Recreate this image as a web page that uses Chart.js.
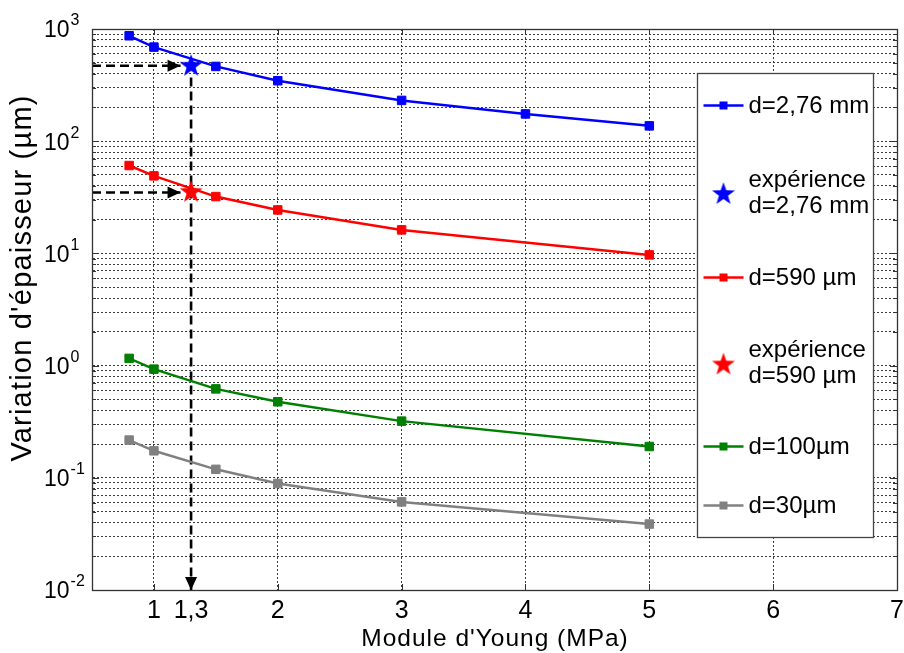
<!DOCTYPE html>
<html>
<head>
<meta charset="utf-8">
<script src="https://cdn.jsdelivr.net/npm/chart.js@4/dist/chart.umd.min.js"></script>
<style>
  html, body { margin: 0; padding: 0; background: #fff; }
  #wrap { width: 904px; height: 653px; }
</style>
</head>
<body>
<div id="wrap"><canvas id="chart" width="904" height="653"></canvas></div>
<script>
// model curves (Young modulus in MPa -> thickness variation in µm)
const xModel = [0.8, 1, 1.5, 2, 3, 4, 5];
const xModelShort = [0.8, 1, 1.5, 2, 3, 5];
const d276 = [870, 690, 464, 346, 231, 175, 137];
const d590 = [60.7, 49.1, 32.1, 24.4, 16.2, 9.7];
const d100 = [1.16, 0.93, 0.62, 0.476, 0.32, 0.19];
const d30 = [0.217, 0.174, 0.119, 0.089, 0.061, 0.0387];

// experimental points
const expX = [1.3];
const exp276 = [480];
const exp590 = [36.1];

// reading arrows (data space)
const arrowBlueX = [0.5, 1.215];
const arrowBlueY = [470, 470];
const arrowRedX = [0.5, 1.215];
const arrowRedY = [34.9, 34.9];
const arrowDownX = [1.3, 1.3];
const arrowDownY = [370, 0.01];

// axes
const xTicks = [1, 1.3, 2, 3, 4, 5, 6, 7];
const xTickLabels = ['1', '1,3', '2', '3', '4', '5', '6', '7'];
const yDecades = [0.01, 0.1, 1, 10, 100, 1000];
const yExponents = ['-2', '-1', '0', '1', '2', '3'];

const labels = ['d=2,76 mm', 'expérience\nd=2,76 mm', 'd=590 µm', 'expérience\nd=590 µm', 'd=100µm', 'd=30µm'];

const FONT = "'Liberation Sans', Arial, sans-serif";

const pts = (xs, ys) => xs.map((x, i) => ({ x: x, y: ys[i] }));

const makeStar = (color, r) => {
    const c = document.createElement('canvas');
    const s = Math.ceil(r * 2 + 4);
    c.width = s; c.height = s;
    const g = c.getContext('2d');
    const cx = s / 2, cy = s / 2 + r * 0.1;
    g.beginPath();
    for (let i = 0; i < 10; i++) {
        const rr = i % 2 === 0 ? r : r * 0.4;
        const a = -Math.PI / 2 + i * Math.PI / 5;
        const px = cx + rr * Math.cos(a), py = cy + rr * Math.sin(a);
        if (i === 0) g.moveTo(px, py); else g.lineTo(px, py);
    }
    g.closePath();
    g.fillStyle = color;
    g.fill();
    return c;
};

const starBlue = makeStar('#0000ff', 12);
const starRed = makeStar('#ff0000', 12);

const series = (label, xs, ys, color) => ({
    label: label,
    data: pts(xs, ys),
    borderColor: color,
    backgroundColor: color,
    borderWidth: 2.5,
    pointStyle: 'rect',
    pointRadius: 6,
    pointBorderWidth: 1,
    tension: 0,
    legendRow: true
});

const arrow = (xs, ys) => ({
    label: '',
    data: pts(xs, ys),
    borderColor: '#000',
    borderWidth: 2.6,
    borderDash: [9, 5],
    pointRadius: 0,
    showLine: true,
    isArrow: true
});

const datasets = [
    series(labels[0], xModel, d276, '#0000ff'),
    { label: labels[1], data: pts(expX, exp276), showLine: false, pointStyle: starBlue, pointRadius: 11, starImg: starBlue, legendRow: true },
    series(labels[2], xModelShort, d590, '#ff0000'),
    { label: labels[3], data: pts(expX, exp590), showLine: false, pointStyle: starRed, pointRadius: 11, starImg: starRed, legendRow: true },
    series(labels[4], xModelShort, d100, '#008000'),
    series(labels[5], xModelShort, d30, '#808080'),
    arrow(arrowBlueX, arrowBlueY),
    arrow(arrowRedX, arrowRedY),
    arrow(arrowDownX, arrowDownY)
];

// axis box, inner ticks, tick labels, titles, arrow heads, legend
const decorPlugin = {
    id: 'decor',
    afterDatasetsDraw(chart) {
        const ctx = chart.ctx;
        ctx.save();
        // arrow heads
        chart.data.datasets.forEach((ds, i) => {
            if (!ds.isArrow) return;
            const meta = chart.getDatasetMeta(i);
            const p0 = meta.data[meta.data.length - 2], p1 = meta.data[meta.data.length - 1];
            const ang = Math.atan2(p1.y - p0.y, p1.x - p0.x);
            const len = 13, half = 6;
            ctx.fillStyle = '#000';
            ctx.beginPath();
            ctx.moveTo(p1.x, p1.y);
            ctx.lineTo(p1.x - len * Math.cos(ang) + half * Math.sin(ang), p1.y - len * Math.sin(ang) - half * Math.cos(ang));
            ctx.lineTo(p1.x - len * Math.cos(ang) - half * Math.sin(ang), p1.y - len * Math.sin(ang) + half * Math.cos(ang));
            ctx.closePath();
            ctx.fill();
        });
        ctx.restore();
    },
    afterDraw(chart) {
        const ctx = chart.ctx;
        const a = chart.chartArea;
        const xs = chart.scales.x, ys = chart.scales.y;
        ctx.save();

        // inner tick marks
        ctx.strokeStyle = '#333';
        ctx.lineWidth = 1;
        ctx.beginPath();
        xs.ticks.forEach(t => {
            if (t.value === 1.3) return;
            const px = Math.round(xs.getPixelForValue(t.value)) + 0.5;
            ctx.moveTo(px, a.bottom); ctx.lineTo(px, a.bottom - 6);
            ctx.moveTo(px, a.top); ctx.lineTo(px, a.top + 6);
        });
        ys.ticks.forEach(t => {
            const py = Math.round(ys.getPixelForValue(t.value)) + 0.5;
            const l = yDecades.includes(t.value) ? 7 : 4;
            ctx.moveTo(a.left, py); ctx.lineTo(a.left + l, py);
            ctx.moveTo(a.right, py); ctx.lineTo(a.right - l, py);
        });
        ctx.stroke();

        // box
        ctx.strokeStyle = '#333';
        ctx.lineWidth = 1.3;
        ctx.strokeRect(Math.round(a.left) + 0.5, Math.round(a.top) + 0.5, Math.round(a.right - a.left), Math.round(a.bottom - a.top));

        // y tick labels 10^n
        ctx.fillStyle = '#000';
        ctx.textAlign = 'left';
        ctx.textBaseline = 'middle';
        yDecades.forEach((v, i) => {
            const py = ys.getPixelForValue(v);
            ctx.font = '23px ' + FONT;
            ctx.fillText('10', 44, py + 2);
            const w = ctx.measureText('10').width;
            ctx.font = '16px ' + FONT;
            ctx.fillText(yExponents[i], 44 + w + 1, py - 8);
        });

        // x tick labels
        ctx.font = '25px ' + FONT;
        ctx.textAlign = 'center';
        ctx.textBaseline = 'alphabetic';
        xTicks.forEach((v, i) => {
            ctx.fillText(xTickLabels[i], xs.getPixelForValue(v), a.bottom + 28);
        });

        // axis titles
        ctx.letterSpacing = '1px';
        ctx.font = '24.5px ' + FONT;
        ctx.fillText("Module d'Young (MPa)", 495, 646);
        ctx.save();
        ctx.translate(23, 278);
        ctx.rotate(-Math.PI / 2);
        ctx.letterSpacing = '1.2px';
        ctx.font = '29px ' + FONT;
        ctx.textBaseline = 'middle';
        ctx.fillText("Variation d'épaisseur (µm)", 0, 0);
        ctx.restore();
        ctx.letterSpacing = '0px';

        // legend
        const bw = 176, bh = 464;
        const bx = Math.round(a.right - 24 - bw) + 0.5, by = Math.round(a.top + 44) + 0.5;
        ctx.fillStyle = '#fff';
        ctx.fillRect(bx, by, bw, bh);
        ctx.strokeStyle = '#444';
        ctx.lineWidth = 1.3;
        ctx.strokeRect(bx, by, bw, bh);
        const rows = [32, 118.5, 204, 289, 373, 432];
        let r = 0;
        chart.data.datasets.forEach(ds => {
            if (!ds.legendRow) return;
            const cy = by + rows[r++];
            if (ds.starImg) {
                ctx.drawImage(ds.starImg, bx + 26 - ds.starImg.width / 2, cy - ds.starImg.height / 2 + 1);
            } else {
                ctx.strokeStyle = ds.borderColor;
                ctx.lineWidth = 2.5;
                ctx.beginPath();
                ctx.moveTo(bx + 6, cy); ctx.lineTo(bx + 46, cy);
                ctx.stroke();
                ctx.fillStyle = ds.borderColor;
                ctx.fillRect(bx + 26 - 4, cy - 4, 8, 8);
            }
            ctx.fillStyle = '#000';
            ctx.font = '24px ' + FONT;
            ctx.textAlign = 'left';
            ctx.textBaseline = 'middle';
            const lines = ds.label.split('\n');
            lines.forEach((ln, k) => {
                ctx.fillText(ln, bx + 51, cy + (k - (lines.length - 1) / 2) * 26 + 1);
            });
        });
        ctx.restore();
    }
};

const gridColor = '#3a3a3a';

new Chart(document.getElementById('chart'), {
    type: 'line',
    data: { datasets: datasets },
    options: {
        responsive: false,
        animation: false,
        devicePixelRatio: 1,
        layout: { autoPadding: false, padding: { left: 92, right: 7, top: 29, bottom: 63 } },
        plugins: { legend: { display: false }, tooltip: { enabled: false } },
        elements: { line: { tension: 0 } },
        scales: {
            x: {
                type: 'linear',
                min: 0.5,
                max: 7,
                afterBuildTicks: (scale) => { scale.ticks = xTicks.map(v => ({ value: v })); },
                ticks: { display: false },
                grid: {
                    drawTicks: false,
                    lineWidth: 1,
                    color: (c) => (c.tick && c.tick.value === 1.3) ? 'rgba(0,0,0,0)' : gridColor
                },
                border: { display: true, color: '#333', dash: [2, 2] }
            },
            y: {
                type: 'logarithmic',
                min: 0.01,
                max: 1000,
                afterBuildTicks: (scale) => {
                    const t = [];
                    yDecades.forEach(d => {
                        for (let m = 1; m <= 9; m++) {
                            if (d * m <= 1000 + 1e-9) t.push({ value: d * m });
                        }
                    });
                    scale.ticks = t;
                },
                ticks: { display: false },
                grid: { drawTicks: false, lineWidth: 1, color: gridColor },
                border: { display: true, color: '#333', dash: [2, 2] }
            }
        }
    },
    plugins: [decorPlugin]
});
</script>
</body>
</html>
